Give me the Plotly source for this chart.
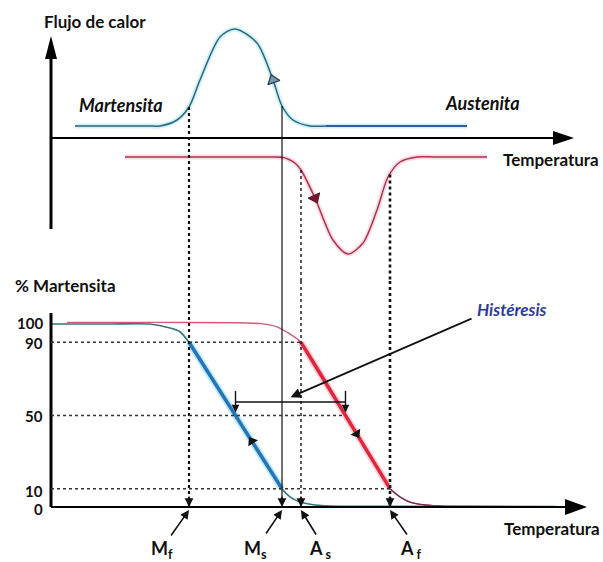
import numpy as np
import plotly.graph_objects as go
from plotly.subplots import make_subplots

W, H = 603, 562

# ---------------- data ----------------
# transformation temperatures (arbitrary temperature units)
trans_names = ["M<sub>f</sub>", "M<sub>s</sub>", "A<sub>&nbsp;s</sub>", "A<sub>&nbsp;f</sub>"]
Mf, Ms, As, Af = 27.6, 46.2, 50.0, 67.8

# DSC heat flow - cooling (exothermic peak)
dsc_cool_T = [4.8, 15.0, 19.5, 21.8, 25.2, 27.6, 29.8, 33.8, 36.8, 41.2, 44.4, 46.2, 48.4, 51.8, 55.0, 60.0, 83.2]
dsc_cool_hf = [1.2, 1.2, 1.2, 1.2, 1.8, 3.1, 5.8, 10.1, 10.9, 9.5, 5.8, 3.2, 1.8, 1.2, 1.2, 1.2, 1.2]
# DSC heat flow - heating (endothermic dip)
dsc_heat_T = [14.8, 36.0, 42.0, 44.6, 46.2, 47.6, 48.9, 50.0, 52.8, 56.4, 59.4, 62.4, 65.2, 67.4, 69.8,
              73.2, 76.5, 80.0, 87.2]
dsc_heat_hf = [-1.9, -1.9, -1.9, -1.9, -1.93, -2.15, -2.55, -3.2, -6.0, -10.2, -11.6, -10.5, -7.2, -3.9, -2.4,
               -1.9, -1.9, -1.9, -1.9]

# % martensite - cooling
cool_T = [0.0, 12.0, 19.8, 23.8, 25.8, Mf, Ms, 47.8, 49.8, 52.8, 57.8, 65.0, 101.0]
cool_pct = [100.0, 100.0, 100.0, 97.8, 95.8, 90.0, 10.0, 5.5, 2.7, 1.1, 0.4, 0.3, 0.2]
# % martensite - heating
heat_T = [3.2, 20.0, 36.0, 42.0, 45.2, As, Af, 69.8, 71.8, 74.8, 78.8, 85.0, 101.0]
heat_pct = [100.9, 100.9, 100.7, 100.2, 98.4, 90.0, 10.0, 5.5, 2.7, 1.1, 0.4, 0.3, 0.2]

tick_vals = [100, 90, 50, 10, 0]
tick_text = ["100", "90", "50", "10", "0"]

# ---------------- layout constants ----------------
X_RANGE = [-10.2, 110.4]
HF_RANGE = [-14.3, 13.8]
PCT_RANGE = [-30.05, 123.5]
SX = W / (X_RANGE[1] - X_RANGE[0])
SY_HF = (H / 2) / (HF_RANGE[1] - HF_RANGE[0])
SY_PCT = (H / 2) / (PCT_RANGE[1] - PCT_RANGE[0])

FONT = "Lato, 'Open Sans', sans-serif"
BLUE_DSC = "#2f6678"
RED_DSC = "#a8344f"

fig = make_subplots(rows=2, cols=1, shared_xaxes=True, vertical_spacing=0)


def ang(dx, dy, sy):
    # clockwise angle from "up" for a screen direction
    return float(np.degrees(np.arctan2(dx * SX, dy * sy)))


# ---- DSC curves ----
fig.add_trace(go.Scatter(x=dsc_cool_T, y=dsc_cool_hf, mode="lines",
                         line=dict(color="rgba(110,215,235,0.35)", width=5, shape="spline", smoothing=0.8),
                         hoverinfo="skip"), row=1, col=1)
fig.add_trace(go.Scatter(x=dsc_cool_T, y=dsc_cool_hf, mode="lines",
                         line=dict(color=BLUE_DSC, width=1.5, shape="spline", smoothing=0.8)), row=1, col=1)
fig.add_trace(go.Scatter(x=dsc_cool_T[-3:], y=dsc_cool_hf[-3:], mode="lines",
                         line=dict(color="#2a4aa5", width=1.5)), row=1, col=1)
fig.add_trace(go.Scatter(x=dsc_heat_T, y=dsc_heat_hf, mode="lines",
                         line=dict(color="rgba(245,150,175,0.35)", width=5, shape="spline", smoothing=0.8),
                         hoverinfo="skip"), row=1, col=1)
fig.add_trace(go.Scatter(x=dsc_heat_T, y=dsc_heat_hf, mode="lines",
                         line=dict(color=RED_DSC, width=1.5, shape="spline", smoothing=0.8)), row=1, col=1)

# direction markers on DSC curves
ci = dsc_cool_T.index(44.4)
fig.add_trace(go.Scatter(x=[dsc_cool_T[ci]], y=[dsc_cool_hf[ci]], mode="markers",
                         marker=dict(symbol="triangle-up", size=11, color="#7f96a8",
                                     line=dict(color="#1f3b55", width=1.2),
                                     angle=ang(dsc_cool_T[ci] - dsc_cool_T[ci + 1],
                                               dsc_cool_hf[ci] - dsc_cool_hf[ci + 1], SY_HF))),
              row=1, col=1)
hi = dsc_heat_T.index(52.8)
fig.add_trace(go.Scatter(x=[dsc_heat_T[hi]], y=[dsc_heat_hf[hi]], mode="markers",
                         marker=dict(symbol="triangle-up", size=11, color="#7a1530",
                                     line=dict(color="#5a0f20", width=1),
                                     angle=ang(dsc_heat_T[hi + 1] - dsc_heat_T[hi - 1],
                                               dsc_heat_hf[hi + 1] - dsc_heat_hf[hi - 1], SY_HF))),
              row=1, col=1)

# ---- % martensite curves ----
ic0, ic1 = cool_T.index(Mf), cool_T.index(Ms)
ih0, ih1 = heat_T.index(As), heat_T.index(Af)
fig.add_trace(go.Scatter(x=heat_T, y=heat_pct, mode="lines",
                         line=dict(color="#d35a7c", width=1.4, shape="spline", smoothing=0.6)), row=2, col=1)
fig.add_trace(go.Scatter(x=heat_T[ih1:], y=heat_pct[ih1:], mode="lines",
                         line=dict(color="#6a3050", width=1.3, shape="spline", smoothing=0.6)), row=2, col=1)
fig.add_trace(go.Scatter(x=cool_T, y=cool_pct, mode="lines",
                         line=dict(color="#2f7a78", width=1.7, shape="spline", smoothing=0.6)), row=2, col=1)

fig.add_trace(go.Scatter(x=cool_T[ic0:ic1 + 1], y=cool_pct[ic0:ic1 + 1], mode="lines",
                         line=dict(color="rgba(100,210,240,0.45)", width=7)), row=2, col=1)
fig.add_trace(go.Scatter(x=cool_T[ic0:ic1 + 1], y=cool_pct[ic0:ic1 + 1], mode="lines",
                         line=dict(color="#2673b5", width=3.5)), row=2, col=1)
fig.add_trace(go.Scatter(x=heat_T[ih0:ih1 + 1], y=heat_pct[ih0:ih1 + 1], mode="lines",
                         line=dict(color="rgba(250,150,170,0.45)", width=7)), row=2, col=1)
fig.add_trace(go.Scatter(x=heat_T[ih0:ih1 + 1], y=heat_pct[ih0:ih1 + 1], mode="lines",
                         line=dict(color="#e0263d", width=3.5)), row=2, col=1)

# direction markers on the transformation lines
pc, ph = 36, 40
tc = float(np.interp(pc, [10, 90], [Ms, Mf]))
th = float(np.interp(ph, [10, 90], [Af, As]))
fig.add_trace(go.Scatter(x=[tc], y=[pc], mode="markers",
                         marker=dict(symbol="triangle-up", size=10, color="#111",
                                     angle=ang(Mf - Ms, 80, SY_PCT))), row=2, col=1)
fig.add_trace(go.Scatter(x=[th], y=[ph], mode="markers",
                         marker=dict(symbol="triangle-up", size=10, color="#111",
                                     angle=ang(Af - As, -80, SY_PCT))), row=2, col=1)

shapes = []
ann = []

# ---- axes (drawn) ----
HF_AX = (-9.1, 10.2)
T_END_TOP = 104.6
T_END_BOT = 107.2
PCT_AX_TOP = 106.0
shapes.append(dict(type="line", xref="x", yref="y", x0=0, x1=0, y0=HF_AX[0], y1=HF_AX[1] - 1.8,
                   line=dict(color="black", width=3)))
shapes.append(dict(type="path", xref="x", yref="y", xsizemode="pixel", ysizemode="pixel",
                   xanchor=0, yanchor=HF_AX[1], path="M0,0 L-6,-23 L6,-23 Z",
                   fillcolor="black", line=dict(width=0)))
shapes.append(dict(type="line", xref="x", yref="y", x0=0, x1=T_END_TOP - 3.5, y0=0, y1=0,
                   line=dict(color="black", width=2)))
shapes.append(dict(type="path", xref="x", yref="y", xsizemode="pixel", ysizemode="pixel",
                   xanchor=T_END_TOP, yanchor=0, path="M0,0 L-21,-7 L-21,7 Z",
                   fillcolor="black", line=dict(width=0)))
shapes.append(dict(type="line", xref="x2", yref="y2", x0=0, x1=0, y0=0, y1=PCT_AX_TOP,
                   line=dict(color="black", width=3)))
shapes.append(dict(type="line", xref="x2", yref="y2", x0=0, x1=T_END_BOT - 3.5, y0=0, y1=0,
                   line=dict(color="black", width=2.2)))
shapes.append(dict(type="path", xref="x2", yref="y2", xsizemode="pixel", ysizemode="pixel",
                   xanchor=T_END_BOT, yanchor=0, path="M0,0 L-22,-8 L-22,8 Z",
                   fillcolor="black", line=dict(width=0)))

# ---- guide lines ----
tops = [float(np.interp(Mf, dsc_cool_T, dsc_cool_hf)), float(np.interp(Ms, dsc_cool_T, dsc_cool_hf)),
        float(np.interp(As, dsc_heat_T, dsc_heat_hf)), float(np.interp(Af, dsc_heat_T, dsc_heat_hf))]
styles = [dict(dash="dot", width=2.2), dict(dash="solid", width=1.2),
          dict(dash="dot", width=1.4), dict(dash="dot", width=2.6)]
for T, top, st in zip([Mf, Ms, As, Af], tops, styles):
    shapes.append(dict(type="line", xref="x", yref="y", x0=T, x1=T, y0=top, y1=HF_RANGE[0],
                       line=dict(color="#111", **st)))
    shapes.append(dict(type="line", xref="x2", yref="y2", x0=T, x1=T, y0=PCT_RANGE[1], y1=0,
                       line=dict(color="#111", **st)))
    ann.append(dict(x=T, y=0, xref="x2", yref="y2", text="", showarrow=True, ax=0, ay=-12,
                    arrowhead=2, arrowsize=1.1, arrowwidth=1.6, arrowcolor="#111"))

t50c = float(np.interp(50, [10, 90], [Ms, Mf]))
t50h = float(np.interp(50, [10, 90], [Af, As]))
for p, tend in [(90, As), (50, t50h), (10, Af)]:
    shapes.append(dict(type="line", xref="x2", yref="y2", x0=0, x1=tend, y0=p, y1=p,
                       line=dict(color="#333", width=1.4, dash="dot")))

# hysteresis bracket
HYST = 57.4
shapes.append(dict(type="line", xref="x2", yref="y2", x0=t50c, x1=t50h, y0=HYST, y1=HYST,
                   line=dict(color="#111", width=1.6)))
for T in (t50c, t50h):
    ann.append(dict(x=T, y=50, xref="x2", yref="y2", text="", showarrow=True, ax=0, ay=-26,
                    standoff=3, arrowhead=2, arrowsize=1.1, arrowwidth=1.4, arrowcolor="#111"))
ann.append(dict(x=(t50c + t50h) / 2, y=HYST + 2.6, xref="x2", yref="y2", text="", showarrow=True,
                axref="x2", ayref="y2", ax=84.4, ay=103.3, arrowhead=2, arrowsize=1.2,
                arrowwidth=1.7, arrowcolor="#111"))

# transformation labels with pointer arrows
offs = [(-19, 27, -27), (-17, 25, -27), (16, 26, 19), (18, 26, 21)]
for T, name, (axp, ayp, xs) in zip([Mf, Ms, As, Af], trans_names, offs):
    ann.append(dict(x=T, y=0, xref="x2", yref="y2", yshift=-3, text="", showarrow=True,
                    ax=axp, ay=ayp, arrowhead=2, arrowsize=1.1, arrowwidth=1.6, arrowcolor="#111"))
    ann.append(dict(x=T, y=(H - 549) / H, xref="x2", yref="paper", xshift=xs, text="<b>" + name + "</b>",
                    showarrow=False, xanchor="center", yanchor="middle",
                    font=dict(family=FONT, size=18, color="#111")))

# tick labels
tick_shift = {100: 1, 90: -1, 50: 0, 10: -2, 0: -2}
for v, t in zip(tick_vals, tick_text):
    ann.append(dict(x=44 / W, y=v, xref="paper", yref="y2", text="<b>" + t + "</b>", showarrow=False,
                    xanchor="right", yanchor="middle", yshift=tick_shift[v],
                    borderpad=0, font=dict(family=FONT, size=15, color="#111")))


def txt(px, py, s, size=15, color="#111", anchor="left"):
    ann.append(dict(x=px / W, y=1 - py / H, xref="paper", yref="paper", text=s, showarrow=False,
                    xanchor=anchor, yanchor="middle", font=dict(family=FONT, size=size, color=color)))


txt(42, 22, "<b>Flujo de calor</b>", 17)
txt(77, 105, "<b><i>Martensita</i></b>", 18)
txt(443, 103, "<b><i>Austenita</i></b>", 18)
txt(501, 160, "<b>Temperatura</b>", 17)
txt(13, 285, "<b>% Martensita</b>", 17)
txt(475, 309, "<b><i>Histéresis</i></b>", 17, color="#2d3d9a")
txt(502, 528, "<b>Temperatura</b>", 17)

fig.update_layout(
    width=W, height=H, margin=dict(l=0, r=0, t=0, b=0),
    paper_bgcolor="white", plot_bgcolor="white", showlegend=False,
    shapes=shapes, annotations=ann,
)
fig.update_xaxes(range=X_RANGE, visible=False, showgrid=False, zeroline=False)
fig.update_yaxes(visible=False, showgrid=False, zeroline=False)
fig.update_yaxes(range=HF_RANGE, row=1, col=1)
fig.update_yaxes(range=PCT_RANGE, row=2, col=1)

fig.write_html("out.html")
